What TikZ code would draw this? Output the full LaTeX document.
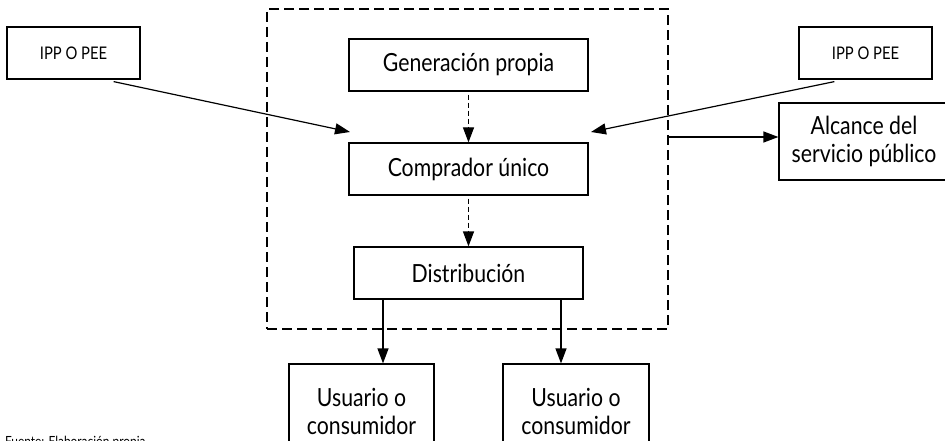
\documentclass[tikz,border=0pt]{standalone}
\usepackage{fontspec}
\setmainfont{Lato}[FakeStretch=0.85]
\usetikzlibrary{positioning,arrows.meta,calc}

\begin{document}
\begin{tikzpicture}[x=1pt, y=-1pt, >={Triangle[length=15pt,width=11pt]},
    box/.style={draw, line width=1.2pt, inner sep=0pt, align=center, font=\fontsize{25}{28}\selectfont},
    smallbox/.style={box, font=\fontsize{17.4}{20}\selectfont},
    zone/.style={draw, line width=2pt, dash pattern=on 10pt off 5pt, inner sep=0pt},
    flow/.style={->, line width=1.2pt, dash pattern=on 5pt off 3pt, shorten <=3pt},
    feed/.style={->, line width=1.2pt}]
  \useasboundingbox (0,0) rectangle (945,441);
  \clip (0,0) rectangle (945,441);
  % single buyer zone
  \node[zone, minimum width=401pt, minimum height=320pt] (frame) at (467.5,169) {};
  \node[box, minimum width=239pt, minimum height=52pt] (gen) at (468.5,65) {Generación propia};
  \node[box, minimum width=239pt, minimum height=52pt] (comp) at (468.5,169) {Comprador único};
  \node[box, minimum width=229pt, minimum height=52pt] (dist) at (468.5,273) {Distribución};
  \draw[flow] (gen.south) -- (comp.north);
  \draw[flow] (comp.south) -- (dist.north);
  % outside
  \node[smallbox, minimum width=133pt, minimum height=52pt] (ippL) at (73.5,53) {IPP O PEE};
  \node[smallbox, minimum width=133pt, minimum height=52pt] (ippR) at (865.5,53) {IPP O PEE};
  \node[box, minimum width=170pt, minimum height=77pt] (alc) at (864,141.5) {Alcance del\\servicio público};
  \node[box, minimum width=145pt, minimum height=95pt] (usr1) at (361.5,411.5) {Usuario o\\consumidor};
  \node[box, minimum width=146pt, minimum height=95pt] (usr2) at (576,411.5) {Usuario o\\consumidor};
  \coordinate (inL) at (350,132);
  \coordinate (inR) at (591,132);
  \coordinate (out) at (0,137);
  \draw[feed] ($(ippL.south east)+(-27,2)$) -- (inL);
  \draw[feed] ($(ippR.south west)+(36,2)$) -- (inR);
  \draw[feed] (frame.east |- out) -- (alc.west |- out);
  \draw[feed] ([xshift=-85.5pt]dist.south) -- ([xshift=-85.5pt]dist.south |- usr1.north);
  \draw[feed] ([xshift=92.5pt]dist.south) -- ([xshift=92.5pt]dist.south |- usr2.north);
  \node[anchor=north west, inner sep=0pt, font=\fontsize{14}{16}\selectfont] (src) at (5,436) {Fuente: Elaboración propia};
\end{tikzpicture}
\end{document}
